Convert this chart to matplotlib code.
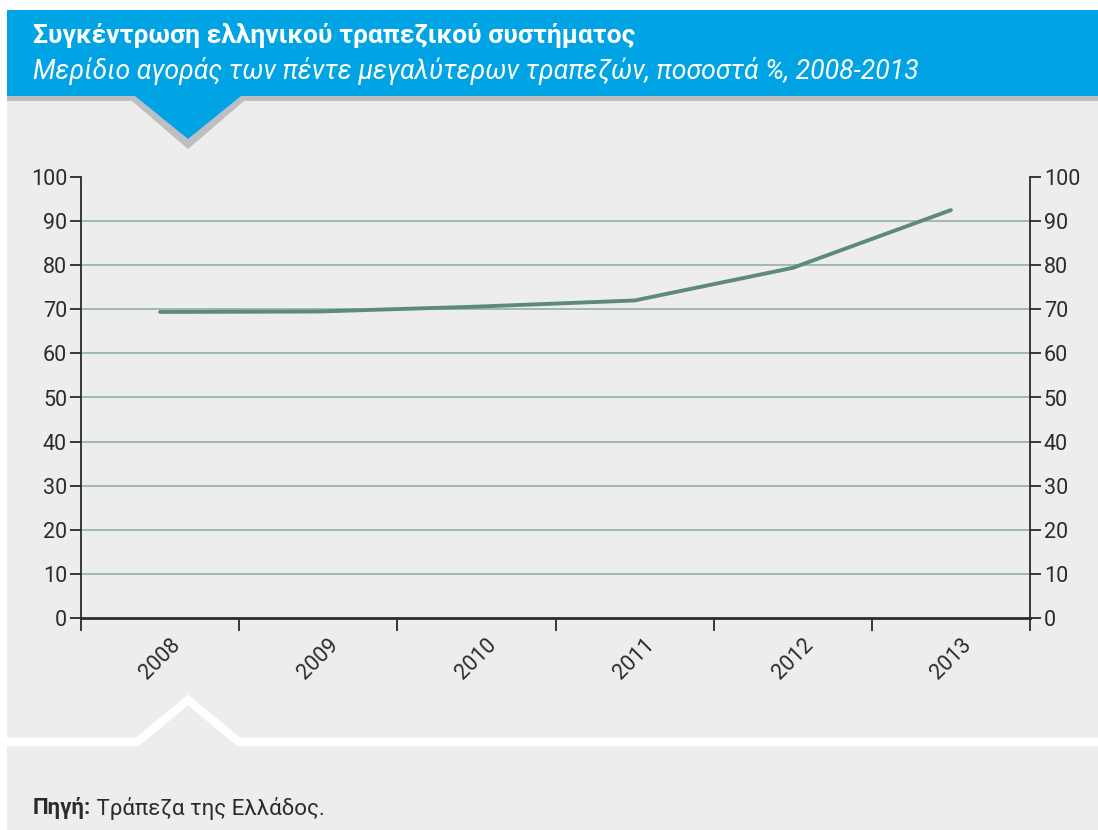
import matplotlib
matplotlib.use("Agg")
import matplotlib.pyplot as plt
from matplotlib.patches import Polygon, Rectangle
from matplotlib.lines import Line2D

years = ["2008", "2009", "2010", "2011", "2012", "2013"]
share = [69.4, 69.5, 70.6, 72.0, 79.4, 92.5]
yticks = [0, 10, 20, 30, 40, 50, 60, 70, 80, 90, 100]

title = "Συγκέντρωση ελληνικού τραπεζικού συστήματος"
subtitle = "Μερίδιο αγοράς των πέντε μεγαλύτερων τραπεζών, ποσοστά %, 2008-2013"
source_bold = "Πηγή:"
source_text = " Τράπεζα της Ελλάδος."

W, H = 1098, 830
FONT = ["Roboto", "DejaVu Sans"]
plt.rcParams["font.family"] = FONT

BLUE = "#00a4e4"
PANEL = "#ededed"
LINE = "#5e8b76"
GRID = "#9bb6a9"
DARK = "#2b2b2b"


def fx(x):
    return x / W


def fy(y):
    return 1 - y / H


fig = plt.figure(figsize=(W / 100, H / 100), dpi=100)
fig.patch.set_facecolor("white")

# background panel
fig.patches.append(Rectangle((fx(7), 0), 1 - fx(7), fy(96), transform=fig.transFigure,
                             facecolor=PANEL, edgecolor="none", zorder=-3))
# banner shadow + banner
shadow = [(7, 96), (7, 101), (132, 101), (188, 149), (244, 101), (W, 101), (W, 96)]
fig.patches.append(Polygon([(fx(x), fy(y)) for x, y in shadow], closed=True,
                           transform=fig.transFigure, facecolor="#bcbec1",
                           edgecolor="none", zorder=-2))
banner = [(7, 10), (7, 96), (135, 96), (188, 139), (241, 96), (W, 96), (W, 10)]
fig.patches.append(Polygon([(fx(x), fy(y)) for x, y in banner], closed=True,
                           transform=fig.transFigure, facecolor=BLUE,
                           edgecolor="none", zorder=-1))

# white divider with the upward notch
div = [(7, 742), (137, 742), (188, 700), (239, 742), (W, 742)]
fig.lines.append(Line2D([fx(x) for x, _ in div], [fy(y) for _, y in div],
                        transform=fig.transFigure, color="white", lw=6,
                        solid_joinstyle="miter", zorder=-1))

fig.text(fx(33), fy(35), title, color="white", fontsize=19, fontweight="bold",
         va="center", ha="left", zorder=3)
fig.text(fx(33), fy(71), subtitle, color="white", fontsize=19.2, style="italic",
         va="center", ha="left", zorder=3)

t = fig.text(fx(33), fy(808), source_bold, color=DARK, fontsize=16,
             fontweight="bold", va="center", ha="left")
fig.canvas.draw()
bb = t.get_window_extent()
fig.text(bb.x1 / W, fy(808), source_text, color=DARK, fontsize=16,
         va="center", ha="left")

# chart
ax = fig.add_axes([fx(81), fy(618), fx(1030) - fx(81), fy(177) - fy(618)])
ax.set_zorder(5)
ax.set_facecolor("none")
x = list(range(len(years)))
ax.plot(x, share, color=LINE, lw=2.8, solid_capstyle="round", zorder=3)

ax.set_xlim(-0.5, len(years) - 0.5)
ax.set_ylim(0, 100)
ax.set_yticks(yticks)
for v in yticks[1:-1]:
    ax.axhline(v, color=GRID, lw=1.3, zorder=1)

for s in ["top"]:
    ax.spines[s].set_visible(False)
for s in ["left", "right"]:
    ax.spines[s].set_color(DARK)
    ax.spines[s].set_linewidth(1.3)
ax.spines["bottom"].set_color(DARK)
ax.spines["bottom"].set_linewidth(2)

ax.tick_params(axis="y", which="both", left=True, right=True, labelleft=True,
               labelright=True, direction="out", length=8, width=1.3,
               color=DARK, labelsize=15.5, labelcolor=DARK, pad=2)

ax.set_xticks([i - 0.5 for i in range(len(years) + 1)])
ax.set_xticklabels([])
ax.set_xticks(x, minor=True)
ax.set_xticklabels(years, minor=True, rotation=45, ha="center", va="top")
ax.tick_params(axis="x", which="major", direction="out", length=9, width=1.3,
               color=DARK)
ax.tick_params(axis="x", which="minor", length=0, pad=12, labelsize=15.5,
               labelcolor=DARK)

fig.savefig("out.png", dpi=100, facecolor=fig.get_facecolor())
